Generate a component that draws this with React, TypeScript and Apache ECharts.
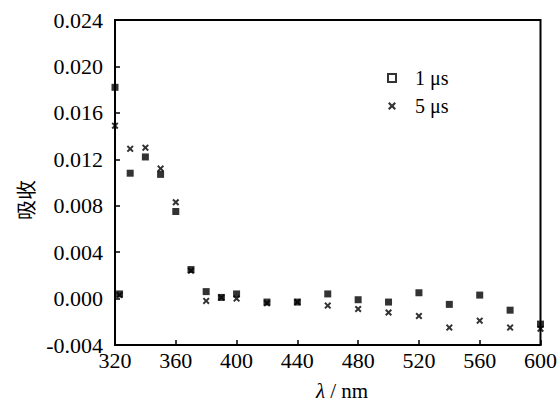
import React, { useEffect, useRef } from "react";
import * as echarts from "echarts";

const wavelengths = [320, 323, 330, 340, 350, 360, 370, 380, 390, 400, 420, 440, 460, 480, 500, 520, 540, 560, 580, 600];
const absorb1us = [0.0182, 0.0004, 0.0108, 0.0122, 0.0107, 0.0075, 0.0025, 0.0006, 0.0001, 0.0004, -0.0003, -0.0003, 0.0004, -0.0001, -0.0003, 0.0005, -0.0005, 0.0003, -0.001, -0.0022];
const absorb5us = [0.0149, 0.0003, 0.0129, 0.013, 0.0112, 0.0083, 0.0024, -0.0002, 0.0001, 0.0, -0.0004, -0.0003, -0.0006, -0.0009, -0.0012, -0.0015, -0.0025, -0.0019, -0.0025, -0.0026];
const seriesNames = ["1 μs", "5 μs"];
const xTicks = { min: 320, max: 600, interval: 40 };
const yTicks = { min: -0.004, max: 0.024, interval: 0.004 };

const SERIF = "Times New Roman, Liberation Serif, DejaVu Serif, serif";
const CJK = "Noto Sans CJK SC";
const CROSS = "path://M0,2L2,0L5,3L8,0L10,2L7,5L10,8L8,10L5,7L2,10L0,8L3,5Z";

export default function App() {
  const ref = useRef<HTMLDivElement>(null);
  useEffect(() => {
    if (!ref.current) return;
    const chart = echarts.init(ref.current, null, { renderer: "svg" });
    chart.setOption({
      animation: false,
      backgroundColor: "#fff",
      textStyle: { fontFamily: SERIF },
      grid: { left: 115, right: 17, top: 20, bottom: 58, show: true, borderColor: "#000", borderWidth: 2, backgroundColor: "transparent" },
      xAxis: {
        type: "value",
        min: xTicks.min,
        max: xTicks.max,
        interval: xTicks.interval,
        axisLine: { show: true, onZero: false, lineStyle: { color: "#000", width: 2 } },
        axisTick: { show: true, inside: true, length: 5, lineStyle: { color: "#000", width: 1.5 } },
        axisLabel: { color: "#000", fontFamily: SERIF, fontSize: 22, margin: 4 },
        splitLine: { show: false },
      },
      yAxis: {
        type: "value",
        min: yTicks.min,
        max: yTicks.max,
        interval: yTicks.interval,
        axisLine: { show: true, onZero: false, lineStyle: { color: "#000", width: 2 } },
        axisTick: { show: true, inside: true, length: 5, lineStyle: { color: "#000", width: 1.5 } },
        axisLabel: { color: "#000", fontFamily: SERIF, fontSize: 22, margin: 12, formatter: (v: number) => v.toFixed(3) },
        splitLine: { show: false },
      },
      legend: {
        orient: "vertical",
        left: 382,
        top: 63,
        itemWidth: 8,
        itemHeight: 8,
        itemGap: 8,
        textStyle: { color: "#000", fontFamily: SERIF, fontSize: 20, lineHeight: 20, padding: [0, 0, 0, 14] },
        data: [
          { name: seriesNames[0], icon: "rect", itemStyle: { color: "#fff", borderColor: "#000", borderWidth: 2 } },
          { name: seriesNames[1], icon: CROSS, itemStyle: { color: "#000" } },
        ],
      },
      series: [
        {
          name: seriesNames[0],
          type: "scatter",
          symbol: "rect",
          symbolSize: 7,
          clip: false,
          itemStyle: { color: "#000" },
          data: wavelengths.map((w, i) => [w, absorb1us[i]]),
        },
        {
          name: seriesNames[1],
          type: "scatter",
          symbol: CROSS,
          symbolSize: 7,
          clip: false,
          itemStyle: { color: "#000" },
          data: wavelengths.map((w, i) => [w, absorb5us[i]]),
        },
      ],
      graphic: [
        {
          type: "text",
          x: 25,
          y: 200,
          rotation: Math.PI / 2,
          style: { text: "吸收", fontSize: 20, fontFamily: CJK, fill: "#000", align: "center", verticalAlign: "middle" },
        },
        {
          type: "text",
          x: 342,
          y: 391,
          style: {
            text: "{i|λ} / nm",
            fill: "#000",
            align: "center",
            verticalAlign: "middle",
            fontSize: 21,
            fontFamily: SERIF,
            rich: { i: { fontStyle: "italic", fontSize: 21, fontFamily: SERIF } },
          },
        },
      ],
    });
    return () => chart.dispose();
  }, []);
  return <div ref={ref} style={{ width: 560, height: 403, position: "absolute", left: 0, top: 0 }} />;
}
